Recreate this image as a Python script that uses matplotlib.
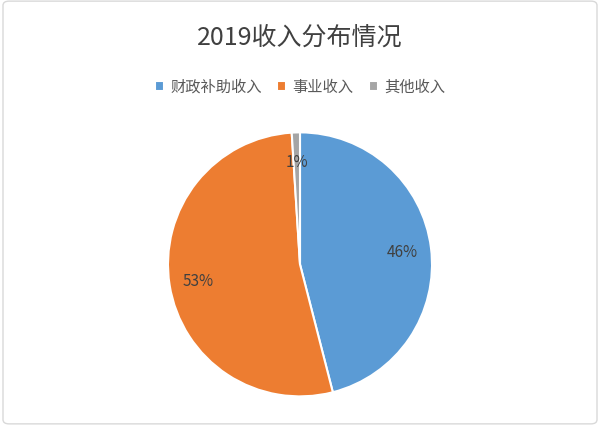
import matplotlib.pyplot as plt
from matplotlib.patches import FancyBboxPatch

plt.rcParams['font.family'] = ['Noto Sans CJK SC', 'DejaVu Sans']

labels = ['财政补助收入', '事业收入', '其他收入']
values = [46, 53, 1]
colors = ['#5b9bd5', '#ed7d31', '#a5a5a5']

fig = plt.figure(figsize=(6, 4.27), dpi=100)
fig.patches.append(FancyBboxPatch((0.005, 0.005), 0.99, 0.99, boxstyle='round,pad=0,rounding_size=0.01',
                                  transform=fig.transFigure, fill=False, edgecolor='#d9d9d9', lw=1))
ax = fig.add_axes([0.5 - 0.275, -0.008, 0.55, 0.773])
wedges, texts, autotexts = ax.pie(values, colors=colors, startangle=90, counterclock=False,
                                  autopct='%1.0f%%', pctdistance=0.78,
                                  wedgeprops=dict(edgecolor='white', linewidth=1.5),
                                  textprops=dict(fontsize=11, color='#404040'))
ax.set_aspect('equal')
fig.text(0.5, 0.912, '2019收入分布情况', ha='center', va='center', fontsize=18, color='#404040')
fig.legend(wedges, labels, loc='center', bbox_to_anchor=(0.5, 0.795), ncol=3, frameon=False,
           fontsize=11, handlelength=0.6, handleheight=0.6, columnspacing=1.0, handletextpad=0.4,
           labelcolor='#595959')
fig.savefig('out.png', dpi=100)
